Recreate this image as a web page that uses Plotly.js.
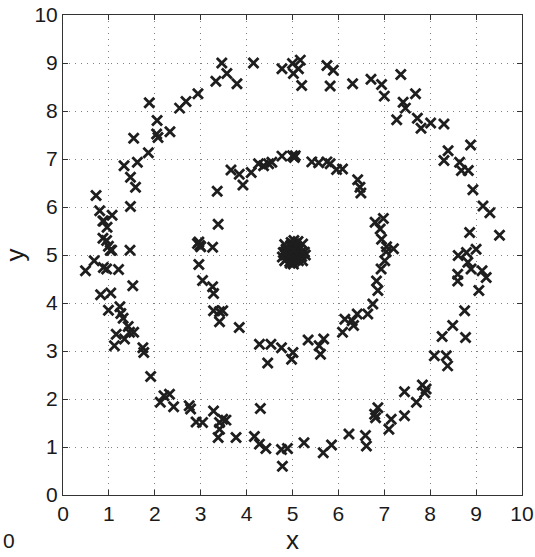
<!DOCTYPE html>
<html>
<head>
<meta charset="utf-8">
<script src="https://cdn.plot.ly/plotly-3.0.1.min.js"></script>
<style>html,body{margin:0;padding:0;background:#fff;}#chart{width:535px;height:557px;}</style>
</head>
<body>
<div id="chart"></div>
<script>
// Outer ring (radius ~4)
var outerX = [4.15,3.46,3.57,3.33,3.79,2.94,2.68,2.54,1.88,2.05,2.04,2.07,2.33,1.54,1.86,1.33,1.62,1.47,1.58,1.47,0.72,0.80,0.89,1.07,0.96,0.87,0.95,0.87,0.99,1.03,1.06,0.68,1.46,4.77,
  5.0,5.17,5.13,5.02,5.2,5.75,5.89,5.82,6.31,6.71,6.94,7.0,7.36,7.68,7.41,7.46,7.27,7.72,7.8,8.01,8.3,8.88,8.39,8.3,8.64,8.68,8.83,8.93,9.15,9.30,8.86,9.51,8.61,8.79,9.0,
  8.6,8.6,8.82,8.89,9.13,9.22,9.06,8.49,8.75,8.77,8.09,8.26,8.35,8.38,7.83,7.88,7.91,7.70,7.44,7.44,7.15,7.10,6.81,6.86,6.79,6.59,6.61,6.23,5.67,5.85,5.25,
  0.49,0.88,0.95,1.21,1.52,0.82,1.04,0.99,1.24,1.26,1.31,1.42,1.16,1.12,1.34,1.45,1.54,1.74,1.76,1.91,2.12,2.2,2.32,2.41,2.75,2.78,2.9,3.04,3.28,3.41,3.48,3.55,3.41,3.38,3.77,4.17,4.28,4.42,4.30,4.76,4.89,4.78];
var outerY = [9.0,9.0,8.78,8.62,8.57,8.36,8.2,8.06,8.17,7.8,7.52,7.45,7.57,7.43,7.13,6.86,6.93,6.62,6.41,6.01,6.24,5.92,5.71,5.83,5.58,5.35,5.3,5.71,5.18,5.1,5.1,4.88,5.1,8.88,
  8.99,9.06,8.88,8.78,8.53,8.95,8.85,8.52,8.57,8.66,8.55,8.31,8.76,8.36,8.18,8.06,7.82,7.85,7.64,7.75,7.73,7.29,7.17,6.97,6.93,6.76,6.76,6.36,6.02,5.88,5.47,5.41,4.99,5.05,5.12,
  4.6,4.46,4.85,4.71,4.67,4.53,4.26,3.53,3.84,3.28,2.9,3.3,2.9,2.69,2.29,2.13,2.21,1.93,2.15,1.65,1.58,1.37,1.61,1.82,1.68,1.24,1.02,1.27,0.88,1.04,1.09,
  4.67,4.74,4.71,4.7,4.36,4.17,4.21,3.85,3.92,3.78,3.68,3.51,3.35,3.11,3.25,3.39,3.39,3.07,2.97,2.47,1.93,2.07,2.1,1.84,1.86,1.79,1.52,1.51,1.75,1.51,1.58,1.56,1.37,1.2,1.2,1.22,1.06,0.97,1.8,0.95,0.97,0.6];
// Inner ring (radius ~2)
var innerX = [3.36,3.38,3.66,3.84,3.92,4.1,4.26,4.37,4.48,4.55,4.77,5.0,5.06,5.04,5.42,5.57,5.75,5.82,5.96,6.09,6.42,6.47,6.49,6.80,6.98,6.91,6.94,7.05,7.2,
  2.93,2.98,2.96,3.0,3.26,2.96,3.04,3.26,3.28,3.28,3.41,3.48,3.41,3.84,4.28,4.53,4.46,4.76,5.01,4.98,
  7.04,7.01,6.93,6.83,6.86,6.75,6.64,6.41,6.30,6.33,6.14,6.09,5.68,5.58,5.61,5.34];
var innerY = [6.33,5.64,6.77,6.68,6.46,6.72,6.9,6.86,6.9,6.93,7.06,7.07,7.07,7.03,6.94,6.92,6.94,6.9,6.78,6.79,6.57,6.41,6.29,5.68,5.76,5.54,5.33,5.17,5.13,
  5.24,5.2,5.27,5.17,5.16,4.8,4.47,4.34,4.2,3.84,3.82,3.84,3.61,3.49,3.14,3.14,2.75,3.07,2.97,2.83,
  5.07,4.88,4.71,4.46,4.26,3.98,3.77,3.77,3.63,3.53,3.66,3.39,3.25,3.11,2.93,3.23];
// Central cluster
var centerX = [4.9,4.98,5.05,5.12,4.93,5.02,5.08,4.86,5.0,5.16,4.94,5.06,4.97,5.1,4.84,5.2,5.01,4.92,5.07,4.99,5.14,4.89,5.04,4.96,5.11,5.0,4.85,5.18,5.03,4.95,5.08,4.91,5.13,5.02,
  4.8,5.26,5.03,5.02,4.83,5.22,4.83,5.22,4.95,5.12,4.78,5.28];
var centerY = [5.05,5.16,4.98,5.1,4.96,5.22,4.9,5.12,5.05,5.02,4.86,5.18,5.26,5.06,5.0,4.97,4.84,5.11,5.15,5.0,5.12,4.94,5.08,5.2,4.92,4.9,5.04,5.06,5.14,5.02,5.24,5.0,4.88,5.1,
  5.05,5.06,5.3,4.81,5.22,5.23,4.88,4.88,4.83,5.28,4.96,5.0];

var mk = {symbol:'x-thin', size:10, color:'#1e1e1e', line:{width:2.8, color:'#1e1e1e'}};
function tr(x,y){return {x:x,y:y,mode:'markers',type:'scatter',marker:mk,showlegend:false,hoverinfo:'none'};}
var data = [tr(outerX,outerY), tr(innerX,innerY), tr(centerX,centerY)];

var ticks = [0,1,2,3,4,5,6,7,8,9,10];
var fam = 'Liberation Sans, Arial, Helvetica, sans-serif';
var fnt = {family:fam, size:21, color:'#1a1a1a'};
var ax = {range:[0,10], tickvals:ticks, ticktext:ticks.map(String), showgrid:true, gridcolor:'#808080', griddash:'1px,5px', gridwidth:1,
  zeroline:false, showline:true, linecolor:'#333', linewidth:1, mirror:'ticks', ticks:'inside', ticklen:5, tickcolor:'#333',
  tickfont:fnt, ticklabeloverflow:'allow', automargin:false, fixedrange:true};
var layout = {
  width:535, height:557, paper_bgcolor:'#fff', plot_bgcolor:'#fff',
  margin:{l:63, r:13, t:15, b:62},
  xaxis:Object.assign({}, ax, {title:{text:'x', font:{family:fam, size:26, color:'#1a1a1a'}, standoff:5}}),
  yaxis:Object.assign({}, ax, {ticklabelstandoff:0, title:{text:'y', font:{family:fam, size:26, color:'#1a1a1a'}, standoff:12}}),
  annotations:[{text:'0', xref:'paper', yref:'paper', x:-0.136, y:-0.094, xanchor:'left', yanchor:'middle', showarrow:false, font:fnt}]
};
Plotly.newPlot('chart', data, layout, {staticPlot:true});
</script>
</body>
</html>
